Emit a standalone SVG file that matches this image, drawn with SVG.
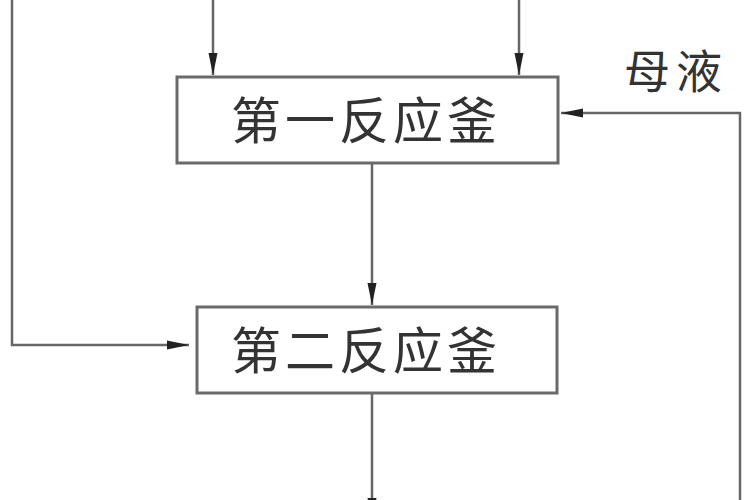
<svg xmlns="http://www.w3.org/2000/svg" width="750" height="500" viewBox="0 0 750 500">
<style>
.box{fill:#fff;stroke:#6a6a6a;stroke-width:3}
.lbl{font-family:"Noto Sans CJK SC","Liberation Sans",sans-serif;font-size:50px;fill:#333;text-anchor:middle;letter-spacing:4px}
.side{font-family:"Noto Sans CJK SC","Liberation Sans",sans-serif;font-size:46px;fill:#333;letter-spacing:6px}
.ln{fill:none;stroke:#666;stroke-width:2.5}
</style>
<defs>
<marker id="ah" markerUnits="userSpaceOnUse" markerWidth="24" markerHeight="12" refX="22" refY="5" orient="auto">
<path d="M0,0.5 L22,5 L0,9.5 Z" fill="#222"/>
</marker>
</defs>
<rect width="750" height="500" fill="#fff"/>
<g id="connectors">
<path class="ln" d="M213,0 V75" marker-end="url(#ah)"/>
<path class="ln" d="M519,0 V75" marker-end="url(#ah)"/>
<path class="ln" d="M12,0 V345 H189" marker-end="url(#ah)"/>
<path class="ln" d="M372,164 V305" marker-end="url(#ah)"/>
<path class="ln" d="M372,394 V520" marker-end="url(#ah)"/>
<path class="ln" d="M740,500 V113 H561" marker-end="url(#ah)"/>
</g>
<g id="reactor1">
<rect class="box" x="177" y="77" width="381" height="86"/>
<text class="lbl" x="366" y="139">第一反应釜</text>
</g>
<g id="reactor2">
<rect class="box" x="197" y="307" width="360" height="86"/>
<text class="lbl" x="366" y="369">第二反应釜</text>
</g>
<g id="mother-liquor">
<text class="side" x="624" y="88">母液</text>
</g>
</svg>
